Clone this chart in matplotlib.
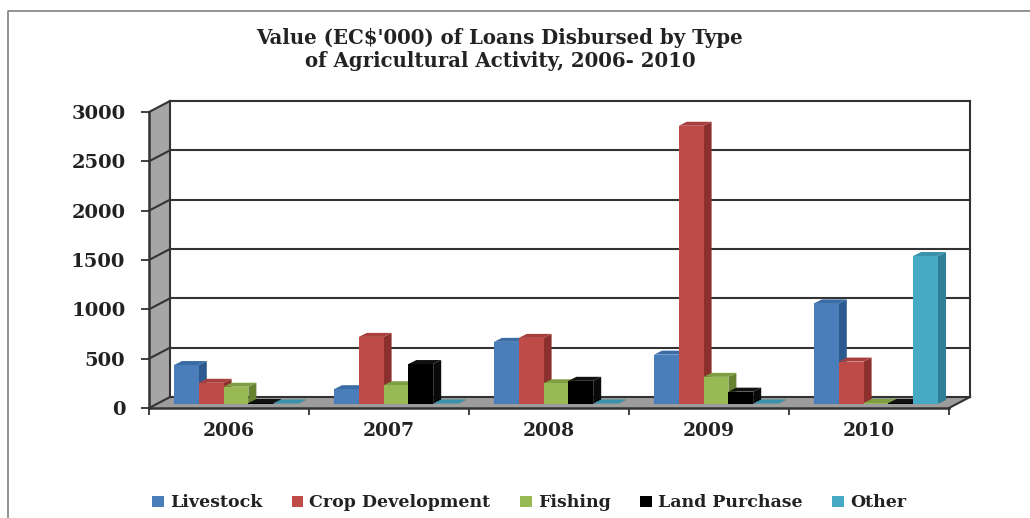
import matplotlib
matplotlib.use("Agg")
from matplotlib import pyplot as plt
from matplotlib.lines import Line2D
from matplotlib.patches import Patch, Polygon

years = ["2006", "2007", "2008", "2009", "2010"]
y_ticks = [0, 500, 1000, 1500, 2000, 2500, 3000]

livestock = [395, 150, 630, 500, 1020]
crop_development = [215, 680, 670, 2820, 430]
fishing = [175, 190, 210, 275, 10]
land_purchase = [10, 405, 235, 125, 10]
other = [5, 5, 5, 5, 1500]

names = ["Livestock", "Crop Development", "Fishing", "Land Purchase", "Other"]
series = [livestock, crop_development, fishing, land_purchase, other]
front_colors = ["#4a7ebb", "#be4b48", "#98b954", "#000000", "#46aac5"]
side_colors = ["#2c5a8e", "#8c302e", "#66832f", "#0a0a0a", "#2f7f96"]
top_colors = ["#3b6ca6", "#a83f3c", "#7f9e42", "#111111", "#3a93ab"]

W, H = 1030, 518
# one pixel in data units
PX = 5 / 800
PY = 3000 / 296
FONT = "DejaVu Serif"
LINE = "#333333"

fig = plt.figure(figsize=(W / 100, H / 100), dpi=100)
ax = fig.add_axes([149 / W, 1 - 408 / H, 800 / W, 296 / H])
ax.set_xlim(0, 5)
ax.set_ylim(0, 3000)
ax.patch.set_visible(False)

wall_x = 21 * PX
wall_y = 11 * PY


def face(points, color, z):
    ax.add_patch(Polygon(points, closed=True, facecolor=color, edgecolor="none",
                         clip_on=False, zorder=z))


def line(xs, ys, z=2, lw=1.5):
    ax.plot(xs, ys, color=LINE, lw=lw, clip_on=False, zorder=z, solid_capstyle="projecting")


# side wall and floor
face([(0, 0), (wall_x, wall_y), (wall_x, 3000 + wall_y), (0, 3000)], "#a6a6a6", 1)
face([(0, 0), (5, 0), (5 + wall_x, wall_y), (wall_x, wall_y)], "#9c9c9c", 1)

for v in y_ticks:
    line([0, wall_x], [v, v + wall_y])
    line([wall_x, 5 + wall_x], [v + wall_y, v + wall_y])
line([wall_x, wall_x], [wall_y, 3000 + wall_y])
line([5 + wall_x, 5 + wall_x], [wall_y, 3000 + wall_y])
line([5, 5 + wall_x], [0, wall_y])

# bars, left to right so each front hides the side of the previous one
bar_w = 0.155
start = 0.1125
base_x = 7 * PX
base_y = 4 * PY
depth_x = 8 * PX
depth_y = 4 * PY
for i, vals in enumerate(series):
    xs = [g + start + i * bar_w + base_x for g in range(len(years))]
    for x, v in zip(xs, vals):
        top = v + base_y
        face([(x + bar_w, base_y), (x + bar_w + depth_x, base_y + depth_y),
              (x + bar_w + depth_x, top + depth_y), (x + bar_w, top)], side_colors[i], 3 + i)
        face([(x, top), (x + depth_x, top + depth_y),
              (x + bar_w + depth_x, top + depth_y), (x + bar_w, top)], top_colors[i], 3 + i)
    ax.bar(xs, vals, bar_w, bottom=base_y, align="edge", color=front_colors[i],
           clip_on=False, zorder=3.5 + i)

for side in ["top", "right"]:
    ax.spines[side].set_visible(False)
for side in ["left", "bottom"]:
    ax.spines[side].set_color(LINE)
    ax.spines[side].set_linewidth(1.8)
    ax.spines[side].set_zorder(12)

ax.set_yticks(y_ticks)
ax.set_xticks(range(6))
ax.set_xticklabels([])
ax.set_xticks([g + 0.5 for g in range(5)], labels=years, minor=True)
ax.tick_params(axis="y", length=6, width=1.3, color=LINE, pad=11)
ax.tick_params(axis="x", which="major", length=5, width=1.3, color=LINE)
ax.tick_params(axis="x", which="minor", length=0, pad=10)
for lab in ax.get_yticklabels():
    lab.set_fontfamily(FONT)
    lab.set_fontweight("bold")
    lab.set_fontsize(14)
    lab.set_color("#222222")
for lab in ax.get_xticklabels(minor=True):
    lab.set_fontfamily(FONT)
    lab.set_fontweight("bold")
    lab.set_fontsize(13.5)
    lab.set_color("#222222")

fig.text(500 / W, 1 - 49.5 / H, "Value (EC\\$'000) of Loans Disbursed by Type\nof Agricultural Activity, 2006- 2010",
         ha="center", va="center", family=FONT, weight="bold", fontsize=14.2,
         color="#222222", linespacing=1.2)

handles = [Patch(facecolor=c, edgecolor="none") for c in front_colors]
fig.legend(handles, names, loc="center", bbox_to_anchor=(529 / W, 1 - 503 / H), ncol=5,
           frameon=False, handlelength=0.68, handleheight=0.62, handletextpad=0.35,
           columnspacing=1.7, prop={"family": FONT, "weight": "bold", "size": 12.5},
           labelcolor="#222222")

# picture frame
fig.add_artist(Line2D([7.5 / W, 7.5 / W, 1], [0, 1 - 10.5 / H, 1 - 10.5 / H],
                      color="#808080", lw=1.2))

fig.savefig("out.png", dpi=100)
